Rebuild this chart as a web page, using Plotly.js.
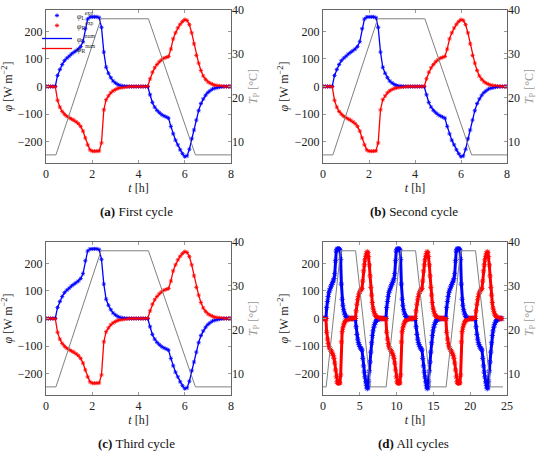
<!DOCTYPE html>
<html>
<head>
<meta charset="utf-8">
<script src="https://cdn.plot.ly/plotly-3.0.1.min.js"></script>
<style>html,body{margin:0;padding:0;background:#fff;}#chart{width:550px;height:455px;}</style>
</head>
<body>
<div id="chart"></div>
<script>
// time grid of one cycle [h]
const tCycle = [0,0.1,0.2,0.3,0.4,0.5,0.6,0.7,0.8,0.9,1.0,1.1,1.2,1.3,1.4,1.5,1.6,1.7,1.8,1.9,
  2.0,2.1,2.2,2.3,2.4,2.5,2.6,2.7,2.8,2.9,3.0,3.1,3.2,3.3,3.4,3.5,3.6,3.7,3.8,3.9,
  4.0,4.1,4.2,4.3,4.4,4.5,4.6,4.7,4.8,4.9,5.0,5.1,5.2,5.3,5.4,5.5,5.6,5.7,5.8,5.9,
  6.0,6.1,6.2,6.3,6.4,6.5,6.6,6.7,6.8,6.9,7.0,7.1,7.2,7.3,7.4,7.5,7.6,7.7,7.8,7.9,8.0];
// heat flux, left side [W m^-2]
const phiL = [0,0,0,0,0,40,62,80,94,103,110,118,124,130,136,145,163,210,245,252,
  253,253,253,250,215,125,70,48,32,20,13,7,4,2,1,0,0,0,0,0,
  0,0,0,0,0,-30,-58,-75,-87,-95,-102,-107,-111,-115,-145,-172,-195,-212,-230,-244,
  -255,-252,-228,-190,-158,-122,-88,-62,-45,-32,-22,-15,-9,-6,-4,-2,-1,0,0,0,0];
// heat flux, right side [W m^-2]
const phiR = [0,0,0,0,0,-50,-75,-91,-101,-108,-113,-118,-122,-128,-135,-145,-162,-187,-212,-230,
  -235,-235,-235,-234,-205,-85,-48,-34,-23,-16,-11,-7,-5,-3,-2,-1,0,0,0,0,
  0,0,0,0,0,28,52,68,80,90,97,103,106,109,136,173,195,213,226,236,
  243,240,225,195,155,113,85,58,38,26,17,12,8,5,3,2,1,0,0,0,0];
// plate temperature profile
const tTemp = [0, 0.43, 2.38, 4.43, 6.46, 8.15];
const TP = [7, 7, 38, 38, 7, 7];
// start times of the three cycles in the full run [h]
const cycleStart = [0, 8.15, 16.3];
const captions = ['First cycle', 'Second cycle', 'Third cycle', 'All cycles'];
const letters = ['a', 'b', 'c', 'd'];
const legendNames = ['<i>φ</i><sub>L</sub><sup>exp</sup>', '<i>φ</i><sub>R</sub><sup>exp</sup>',
  '<i>φ</i><sub>L</sub><sup>num</sup>', '<i>φ</i><sub>R</sub><sup>num</sup>'];

const BLUE = '#0000ff', RED = '#ff0000', GRAY = '#808080';
const FONT = 'Times New Roman';
const LEG = ['legend', 'legend2', 'legend3', 'legend4'];

const data = [];
function addPanel(idx, tx, L, R, tT, T, msize, lw, showLeg) {
  const xa = 'x' + (idx + 1);
  const ya = 'y' + (2 * idx + 1);
  const yb = 'y' + (2 * idx + 2);
  data.push({x: tT, y: T, xaxis: xa, yaxis: yb, mode: 'lines', line: {color: GRAY, width: 1}, showlegend: false, hoverinfo: 'skip'});
  data.push({x: tx, y: L, xaxis: xa, yaxis: ya, mode: 'markers', name: legendNames[0], legend: LEG[0],
    marker: {symbol: 'asterisk-open', size: msize, color: BLUE, line: {color: BLUE, width: 0.8}}, showlegend: showLeg});
  data.push({x: tx, y: R, xaxis: xa, yaxis: ya, mode: 'markers', name: legendNames[1], legend: LEG[1],
    marker: {symbol: 'asterisk-open', size: msize, color: RED, line: {color: RED, width: 0.8}}, showlegend: showLeg});
  data.push({x: tx, y: L, xaxis: xa, yaxis: ya, mode: 'lines', name: legendNames[2], legend: LEG[2],
    line: {color: BLUE, width: lw}, showlegend: showLeg});
  data.push({x: tx, y: R, xaxis: xa, yaxis: ya, mode: 'lines', name: legendNames[3], legend: LEG[3],
    line: {color: RED, width: lw}, showlegend: showLeg});
}
addPanel(0, tCycle, phiL, phiR, tTemp, TP, 3.5, 1.3, true);
addPanel(1, tCycle, phiL, phiR, tTemp, TP, 3.5, 1.3, false);
addPanel(2, tCycle, phiL, phiR, tTemp, TP, 3.5, 1.3, false);
// all cycles
const tAll = [], LAll = [], RAll = [], tTAll = [], TAll = [];
cycleStart.forEach(s => {
  tCycle.forEach((t, i) => { tAll.push(t + s); LAll.push(phiL[i]); RAll.push(phiR[i]); });
  tTemp.forEach((t, i) => { tTAll.push(t + s); TAll.push(TP[i]); });
});
addPanel(3, tAll, LAll, RAll, tTAll, TAll, 4.5, 3, false);

const W = 550, H = 455;
const colX = [[46, 231], [323, 507], [46, 231], [323, 507]];
const rowY = [[10, 163], [10, 163], [242, 395], [242, 395]];
const capY = [211, 211, 443, 443];
const capX = [136, 413.5, 136, 413.5];
const legCenterY = [15, 25, 38, 48];

const layout = {
  width: W, height: H,
  margin: {l: 0, r: 0, t: 0, b: 0},
  paper_bgcolor: '#fff', plot_bgcolor: '#fff',
  font: {family: FONT, size: 11, color: '#222'},
  showlegend: true,
  annotations: [],
};
LEG.forEach((k, i) => {
  layout[k] = {x: 37 / W, y: 1 - (legCenterY[i] - 14) / H, xanchor: 'left', yanchor: 'top',
    bgcolor: 'rgba(0,0,0,0)', font: {size: 8, family: FONT, color: '#222'}, itemwidth: 30};
});

for (let i = 0; i < 4; i++) {
  const xk = 'xaxis' + (i + 1);
  const yk1 = 'yaxis' + (2 * i + 1);
  const yk2 = 'yaxis' + (2 * i + 2);
  const isAll = i === 3;
  layout[xk] = {
    domain: [colX[i][0] / W, colX[i][1] / W],
    anchor: 'y' + (2 * i + 1),
    range: isAll ? [0, 25] : [0, 8],
    tickvals: isAll ? [0, 5, 10, 15, 20, 25] : [0, 2, 4, 6, 8],
    ticks: 'inside', ticklen: 3, tickcolor: '#999',
    showline: true, linecolor: '#666', linewidth: 1, mirror: 'ticks',
    showgrid: false, zeroline: false,
    tickfont: {family: FONT, size: 12, color: '#222'},
    title: {text: '<i>t</i> [h]', font: {family: FONT, size: 12, color: '#222'}, standoff: 3},
  };
  layout[yk1] = {
    domain: [1 - rowY[i][1] / H, 1 - rowY[i][0] / H],
    anchor: 'x' + (i + 1),
    range: [-278, 278],
    tickvals: [-200, -100, 0, 100, 200],
    ticks: 'inside', ticklen: 3, tickcolor: '#999',
    showline: true, linecolor: '#666', linewidth: 1, mirror: 'ticks',
    showgrid: false, zeroline: false,
    tickfont: {family: FONT, size: 12, color: '#222'},
    title: {text: '<i>φ</i> [W m<sup>−2</sup>]', font: {family: FONT, size: 12, color: '#222'}, standoff: 3},
  };
  layout[yk2] = {
    overlaying: 'y' + (2 * i + 1),
    anchor: 'x' + (i + 1),
    side: 'right',
    range: [5.15, 40],
    tickvals: [10, 20, 30, 40],
    ticks: 'inside', ticklen: 3, tickcolor: '#999',
    showline: false, showgrid: false, zeroline: false,
    tickfont: {family: FONT, size: 12, color: '#222'},
    title: {text: '<i>T</i><sub>P</sub> [°C]', font: {family: FONT, size: 12, color: '#999'}, standoff: 5},
  };
  layout.annotations.push({
    xref: 'paper', yref: 'paper', x: capX[i] / W, y: 1 - capY[i] / H,
    xanchor: 'center', yanchor: 'middle', showarrow: false,
    text: '<b>(' + letters[i] + ')</b> ' + captions[i],
    font: {family: FONT, size: 13, color: '#111'},
  });
}

Plotly.newPlot('chart', data, layout, {displayModeBar: false, staticPlot: true});
</script>
</body>
</html>
